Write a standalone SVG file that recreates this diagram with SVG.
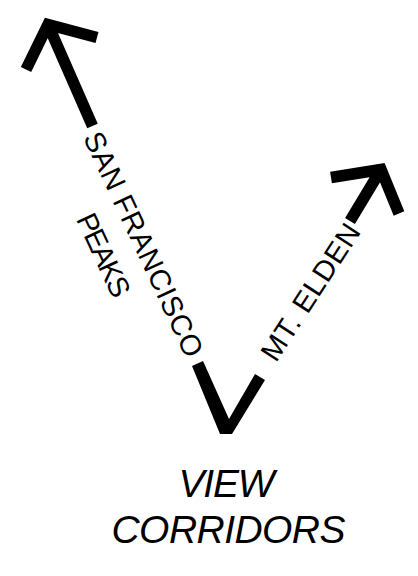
<svg xmlns="http://www.w3.org/2000/svg" width="418" height="576" viewBox="0 0 418 576">
  <style>
    .arrow { fill: none; stroke: #000; stroke-width: 11.5; stroke-linejoin: miter; stroke-linecap: butt; stroke-miterlimit: 10; }
    .lbl { font-family: "Liberation Sans", Arial, sans-serif; font-size: 29px; fill: #000; text-anchor: middle; }
    .title { font-family: "Liberation Sans", Arial, sans-serif; font-size: 39px; font-style: italic; fill: #000; text-anchor: middle; }
  </style>
  <rect width="418" height="576" fill="#fff"/>
  <g id="connectors">
    <path id="arrow-sf" class="arrow" d="M26,69.5 L48,24.5 L97,37.5 M48,24.5 L92.5,126"/>
    <path id="arrow-elden" class="arrow" d="M331,177.5 L381,169.5 L399,213.5 M381,169.5 L350,221"/>
    <polygon id="vee" points="192,366 203,361 229,419 255,374 265,380 232,434 220,434" fill="#000"/>
  </g>
  <g id="label-sf">
    <text class="lbl" transform="translate(134.6,248.4) rotate(65)" textLength="245">SAN FRANCISCO</text>
    <text class="lbl" transform="translate(94.6,259.4) rotate(65)" textLength="89">PEAKS</text>
  </g>
  <g id="label-elden">
    <text class="lbl" transform="translate(318.8,297.4) rotate(-57)" textLength="157">MT. ELDEN</text>
  </g>
  <g id="title">
    <text class="title" x="226.5" y="497" textLength="96">VIEW</text>
    <text class="title" x="228.5" y="543" textLength="234">CORRIDORS</text>
  </g>
</svg>
